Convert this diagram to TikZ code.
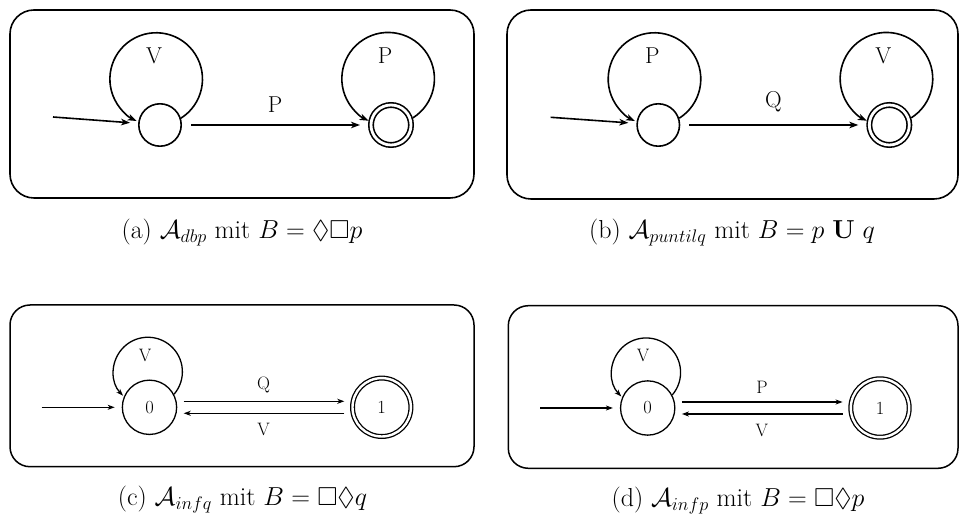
\RequirePackage{fix-cm}
\documentclass[tikz,border=0pt]{standalone}
\usepackage{amssymb}
\DeclareFontFamily{U}{msa}{}
\DeclareFontShape{U}{msa}{m}{n}{<-> msam10}{}
\usetikzlibrary{arrows.meta}
\tikzset{
  big/.style={line width=1.6pt},
  small/.style={line width=1.3pt},
  tipA/.style={-{Stealth[length=9pt,width=6.5pt,inset=2.5pt]}},
  tipC/.style={-{Stealth[length=7pt,width=5pt,inset=2pt]}},
  stA/.style={circle,draw,big,minimum size=42.4pt,inner sep=0pt},
  accA/.style={circle,draw,big,double,double distance=2.8pt,minimum size=40pt,inner sep=0pt,outer sep=3pt},
  stC/.style={circle,draw,small,minimum size=54.3pt,inner sep=0pt,font=\fontsize{18.5}{22}\selectfont},
  accC/.style={circle,draw,small,double,double distance=2.4pt,minimum size=58.4pt,inner sep=0pt,outer sep=2.5pt,font=\fontsize{18.5}{22}\selectfont},
  boxA/.style={draw,line width=1.6pt,rounded corners=24pt},
  boxC/.style={draw,line width=1.5pt,rounded corners=20pt},
  lblA/.style={inner sep=0pt,font=\fontsize{23}{27}\selectfont},
  lblC/.style={inner sep=0pt,font=\fontsize{18}{21}\selectfont},
  captext/.style={inner sep=0pt,anchor=base,font=\fontsize{26}{31}\selectfont},
}
\begin{document}
\begin{tikzpicture}[x=1pt,y=1pt]
\useasboundingbox (0,0) rectangle (960,516);

% ---------- (a) ----------
\draw[boxA] (10,318) rectangle (474,506);
\node[stA] (a0) at (160,391) {};
\node[accA] (a1) at (391,391) {};
\coordinate (ai) at (53,399);
\draw[big,tipA,shorten >=8pt] (ai) -- (a0);
\draw[big,tipA,shorten <=9pt,shorten >=8pt] (a0) -- node[lblA,above=12pt] (lpa) {P} (a1);
\draw[big,tipA] (a0.18.5) arc[start angle=-57.7,end angle=245,radius=46.3];
\draw[big,tipA] (a1.18.5) arc[start angle=-57.7,end angle=245,radius=46.3];
\node[lblA] (lva) at ([shift={(-6pt,69.5pt)}]a0.center) {V};
\node[lblA] (lpa2) at ([shift={(-6pt,69.5pt)}]a1.center) {P};
\node[captext] (capa) at (242,277) {(a) $\mathcal{A}_{dbp}$ mit $B = \Diamond\Box p$};

% ---------- (b) ----------
\draw[boxA] (507,317) rectangle (958,506);
\node[stA] (b0) at (658.3,391) {};
\node[accA] (b1) at (889.3,391) {};
\coordinate (bi) at (550.7,398.7);
\draw[big,tipA,shorten >=8pt] (bi) -- (b0);
\draw[big,tipA,shorten <=9pt,shorten >=8pt] (b0) -- node[lblA,above=12pt] (lqb) {Q} (b1);
\draw[big,tipA] (b0.18.5) arc[start angle=-57.7,end angle=245,radius=46.3];
\draw[big,tipA] (b1.18.5) arc[start angle=-57.7,end angle=245,radius=46.3];
\node[lblA] (lpb) at ([shift={(-6pt,69.5pt)}]b0.center) {P};
\node[lblA] (lvb) at ([shift={(-6pt,69.5pt)}]b1.center) {V};
\node[captext] (capb) at (732,277) {(b) $\mathcal{A}_{puntilq}$ mit $B = p\ \mathbf{U}\ q$};

% ---------- (c) ----------
\draw[boxC] (10,49.3) rectangle (474,211);
\node[stC] (c0) at (149.5,108.7) {0};
\node[accC] (c1) at (381.7,108.7) {1};
\coordinate (ci) at (41.7,108.7);
\draw[small,tipC,shorten >=7pt] (ci) -- (c0);
\draw[small,tipC,shorten <=6.4pt,shorten >=5.7pt] ([yshift=6pt]c0.east) -- node[lblC,above=8pt] (lqc) {Q} ([yshift=6pt]c1.west);
\draw[small,tipC,shorten <=5.7pt,shorten >=6.4pt] ([yshift=-6pt]c1.west) -- node[lblC,below=9.5pt] (lvc) {V} ([yshift=-6pt]c0.east);
\draw[small,tipC] (c0.28.5) arc[start angle=-40.7,end angle=224,radius=34.5];
\node[lblC] (lvc2) at ([shift={(-4.5pt,52pt)}]c0.center) {V};
\node[captext] (capc) at (242.5,10) {(c) $\mathcal{A}_{infq}$ mit $B = \Box\Diamond q$};

% ---------- (d) ----------
\draw[boxC] (508.3,47.7) rectangle (958,210.3);
\node[stC] (d0) at (647.7,108) {0};
\node[accC] (d1) at (880,108) {1};
\coordinate (di) at (540,108);
\draw[small,tipC,shorten >=7pt] (di) -- (d0);
\draw[small,tipC,shorten <=6.4pt,shorten >=5.7pt] ([yshift=6pt]d0.east) -- node[lblC,above=8pt] (lpd) {P} ([yshift=6pt]d1.west);
\draw[small,tipC,shorten <=5.7pt,shorten >=6.4pt] ([yshift=-6pt]d1.west) -- node[lblC,below=9.5pt] (lvd) {V} ([yshift=-6pt]d0.east);
\draw[small,tipC] (d0.28.5) arc[start angle=-40.7,end angle=224,radius=34.5];
\node[lblC] (lvd2) at ([shift={(-4.5pt,52pt)}]d0.center) {V};
\node[captext] (capd) at (738,9) {(d) $\mathcal{A}_{infp}$ mit $B = \Box\Diamond p$};
\end{tikzpicture}
\end{document}
